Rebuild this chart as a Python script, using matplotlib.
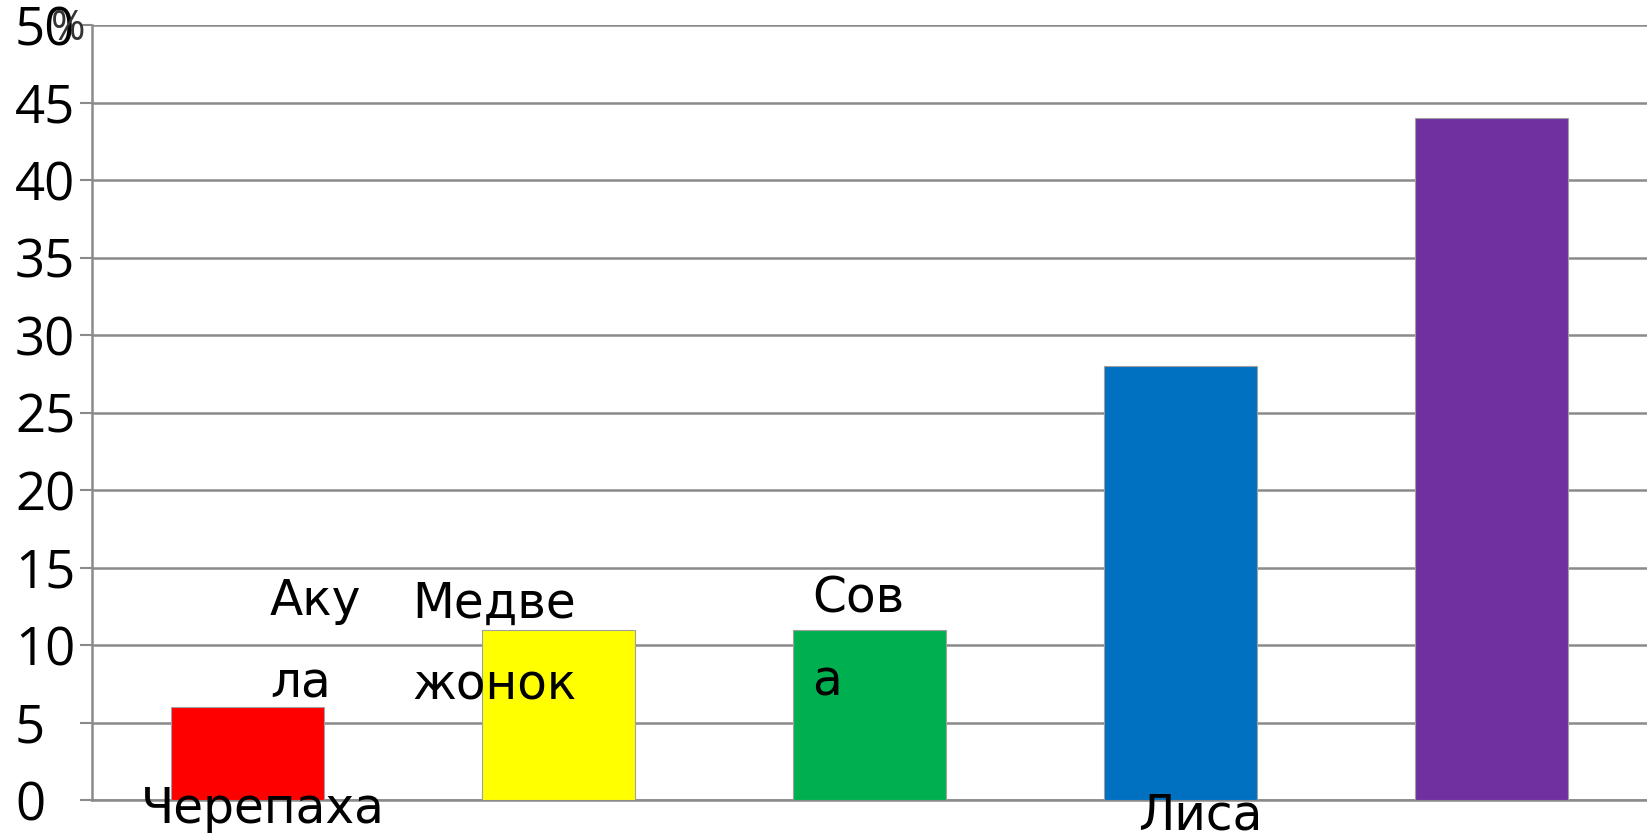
import matplotlib

matplotlib.use("Agg")
import matplotlib.pyplot as plt

plt.rcParams["font.family"] = ["Open Sans", "DejaVu Sans"]

# данные
animals = ["Черепаха", "Медвежонок", "Сова", "Лиса", "Акула"]
percent = [6, 11, 11, 28, 44]
colors = ["#ff0000", "#ffff00", "#00b050", "#0070c0", "#7030a0"]
yticks = [0, 5, 10, 15, 20, 25, 30, 35, 40, 45, 50]

# подписи категорий, разбросанные как в оригинале (пиксели фигуры, базовая линия последней строки)
labels = ["Аку\nла", "Медве\nжонок", "Сов\nа", "Черепаха", "Лиса"]
label_pos = [(270, 697), (412, 700), (812, 695), (141, 823), (1138, 830)]

W, H = 1647, 836
GRID = "#8a8a8a"

fig = plt.figure(figsize=(W / 100, H / 100), dpi=100)
ax = fig.add_axes([92 / W, 1 - 800 / H, 1 - 92 / W, (800 - 25) / H])

x = range(len(animals))
ax.bar(x, percent, width=0.495, color=colors, edgecolor="#a0a0a0",
       linewidth=0.8, zorder=3)

ax.set_xlim(-0.5, len(animals) - 0.5)
ax.set_ylim(0, 50)
ax.set_yticks(yticks)
ax.set_xticks([])
ax.grid(True, axis="y", color=GRID, linewidth=1.8, zorder=0)
# подписи оси Y выровнены по левому краю (~15 px от края)
tick_len = 8.6
ax.tick_params(axis="y", length=tick_len, width=1.5, color=GRID,
               pad=(92 - 15) * 0.72 - tick_len,
               labelsize=38, labelcolor="#000000")
for lbl in ax.get_yticklabels():
    lbl.set_horizontalalignment("left")
for side in ("top", "right"):
    ax.spines[side].set_visible(False)
for side in ("left", "bottom"):
    ax.spines[side].set_color(GRID)
    ax.spines[side].set_linewidth(1.8)

for text, (px, py) in zip(labels, label_pos):
    fig.text(px / W, 1 - py / H, text, fontsize=35, family="DejaVu Sans",
             ha="left", va="baseline", linespacing=1.9, color="#000000",
             zorder=5)

fig.text(68 / W, 1 - 29 / H, "%", fontsize=30, ha="center", va="center",
         color="#333333", zorder=1)

fig.savefig("out.png", dpi=100)
